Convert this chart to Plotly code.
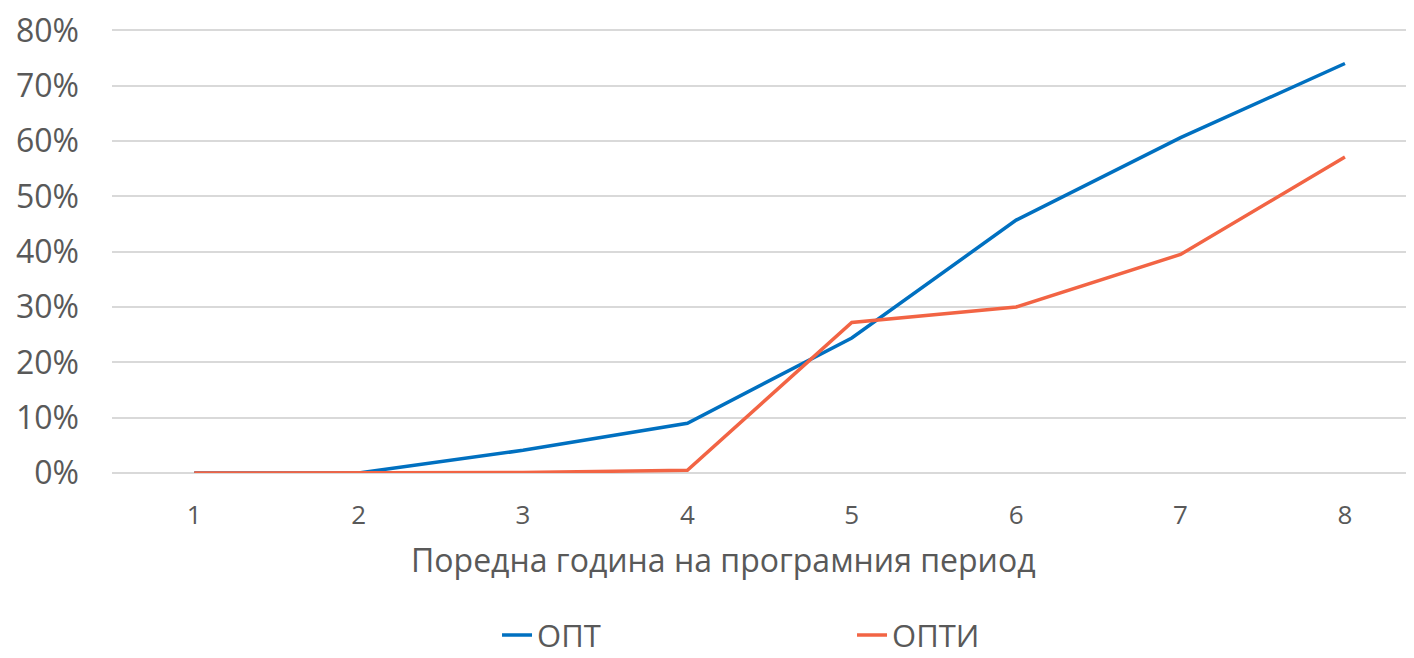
import plotly.graph_objects as go

years = [1, 2, 3, 4, 5, 6, 7, 8]
opt = [0.0, 0.0, 0.041, 0.090, 0.244, 0.457, 0.606, 0.740]
opti = [0.0, 0.0, 0.001, 0.005, 0.272, 0.300, 0.395, 0.571]
y_ticks = [0, 0.1, 0.2, 0.3, 0.4, 0.5, 0.6, 0.7, 0.8]
y_tick_text = ["0%", "10%", "20%", "30%", "40%", "50%", "60%", "70%", "80%"]
x_title = "Поредна година на програмния период"

FONT = "Open Sans"
GRAY = "#595959"

fig = go.Figure()
fig.add_trace(go.Scatter(x=years, y=opt, mode="lines", name="ОПТ",
                         line=dict(color="#0070C0", width=3.5)))
fig.add_trace(go.Scatter(x=years, y=opti, mode="lines", name="ОПТИ",
                         line=dict(color="#F26444", width=3.5)))

fig.update_layout(
    width=1406, height=650,
    paper_bgcolor="white", plot_bgcolor="white",
    margin=dict(l=104, r=0, t=17, b=185),
    font=dict(family=FONT, color=GRAY),
    legend=dict(orientation="h", xref="container", yref="container",
                x=0.6003, xanchor="center", y=0.035, yanchor="middle",
                font=dict(size=31, color=GRAY), entrywidth=310,
                entrywidthmode="pixels", itemwidth=30),
    xaxis=dict(range=[0.5, 8.42], tickmode="array", tickvals=years,
               ticktext=[str(v) for v in years], showgrid=False,
               zeroline=False, showline=False, ticks="",
               tickfont=dict(size=26, color=GRAY), ticklabelstandoff=24),
    yaxis=dict(range=[0, 0.806], tickmode="array", tickvals=y_ticks,
               ticktext=y_tick_text, showgrid=True, gridcolor="#D9D9D9",
               gridwidth=1.5, zeroline=True, zerolinecolor="#D9D9D9",
               zerolinewidth=2, showline=False, ticks="",
               ticklabeloverflow="allow",
               tickfont=dict(size=32, color=GRAY), ticklabelstandoff=32),
    annotations=[dict(text=x_title, xref="paper", yref="paper",
                      x=(715.5 - 104) / 1302, y=-0.195, xanchor="center",
                      yanchor="middle", showarrow=False,
                      font=dict(size=32, color=GRAY))],
)

fig.write_html("out.html")
